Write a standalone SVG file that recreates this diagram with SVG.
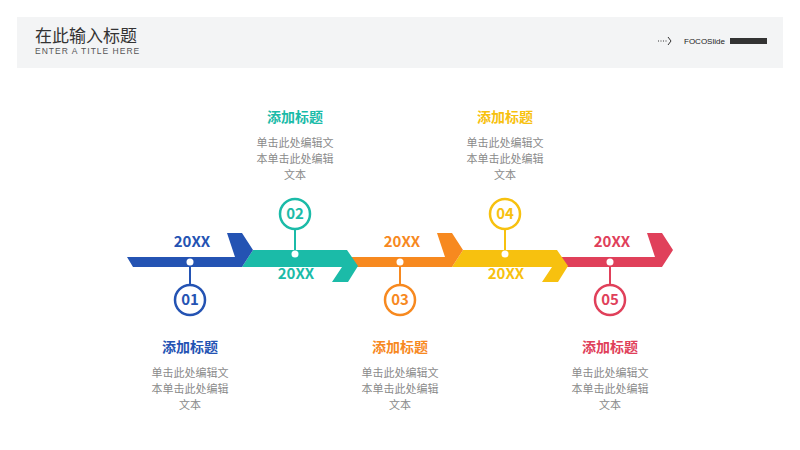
<svg xmlns="http://www.w3.org/2000/svg" width="800" height="450" viewBox="0 0 800 450">
<style>
text{font-family:"Noto Sans CJK SC","Liberation Sans",sans-serif}
.yr{font-size:15px;font-weight:bold;text-anchor:middle}
.tt{font-size:14px;font-weight:bold;text-anchor:middle}
.ds{font-size:11px;fill:#8a8a8a;text-anchor:middle}
.num{font-size:15px;font-weight:bold;text-anchor:middle}
.c{fill:#fff;stroke-width:2.5}
</style>
<rect width="800" height="450" fill="#fff"/>
<rect x="17" y="17" width="766" height="51" fill="#f3f4f5"/>
<text x="35" y="42" font-size="17" fill="#333">在此输入标题</text>
<text x="35" y="54" font-size="8.5" fill="#555" letter-spacing="1" style="font-family:'Liberation Sans',sans-serif">ENTER A TITLE HERE</text>
<line x1="658" y1="41" x2="667" y2="41" stroke="#333" stroke-width="1" stroke-dasharray="1,1.5"/>
<path d="M668 37 L671 41 L668 45" fill="none" stroke="#333"/>
<text x="684" y="44" font-size="8" fill="#222" style="font-family:'Liberation Sans',sans-serif">FOCOSlide</text>
<rect x="730" y="38" width="37" height="6" fill="#333"/>
<g id="connectors">
<polygon fill="#E0405A" points="547,257 655,257 647,233 662,233 673,250 662,267 553,267"/>
<polygon fill="#F7C10F" points="463,250 557,250 568,266 558,282 542,282 552,267 452,267"/>
<polygon fill="#F7891F" points="337,257 445,257 437,233 452,233 463,250 452,267 343,267"/>
<polygon fill="#1BBBA8" points="253,250 347,250 358,266 348,282 332,282 342,267 242,267"/>
<polygon fill="#2453B3" points="127,257 235,257 227,233 242,233 253,250 242,267 133,267"/>
<line x1="190" y1="262" x2="190" y2="285" stroke="#2453B3" stroke-width="2"/>
<line x1="295" y1="254" x2="295" y2="229" stroke="#1BBBA8" stroke-width="2"/>
<line x1="400" y1="262" x2="400" y2="285" stroke="#F7891F" stroke-width="2"/>
<line x1="505" y1="254" x2="505" y2="229" stroke="#F7C10F" stroke-width="2"/>
<line x1="610" y1="262" x2="610" y2="285" stroke="#E0405A" stroke-width="2"/>
<g fill="#fff"><circle cx="190" cy="262" r="3.5"/><circle cx="295" cy="254" r="3.5"/><circle cx="400" cy="262" r="3.5"/><circle cx="505" cy="254" r="3.5"/><circle cx="610" cy="262" r="3.5"/></g>
</g>
<g id="n1" fill="#2453B3"><text class="yr" x="192" y="247">20XX</text><circle class="c" stroke="#2453B3" cx="190" cy="300" r="15"/><text class="num" x="190" y="305">01</text><text class="tt" x="190" y="352">添加标题</text><text class="ds" x="190" y="377">单击此处编辑文</text><text class="ds" x="190" y="393">本单击此处编辑</text><text class="ds" x="190" y="409">文本</text></g>
<g id="n2" fill="#1BBBA8"><text class="yr" x="296" y="279">20XX</text><circle class="c" stroke="#1BBBA8" cx="295" cy="214" r="15"/><text class="num" x="295" y="219">02</text><text class="tt" x="295" y="122">添加标题</text><text class="ds" x="295" y="147">单击此处编辑文</text><text class="ds" x="295" y="163">本单击此处编辑</text><text class="ds" x="295" y="179">文本</text></g>
<g id="n3" fill="#F7891F"><text class="yr" x="402" y="247">20XX</text><circle class="c" stroke="#F7891F" cx="400" cy="300" r="15"/><text class="num" x="400" y="305">03</text><text class="tt" x="400" y="352">添加标题</text><text class="ds" x="400" y="377">单击此处编辑文</text><text class="ds" x="400" y="393">本单击此处编辑</text><text class="ds" x="400" y="409">文本</text></g>
<g id="n4" fill="#F7C10F"><text class="yr" x="506" y="279">20XX</text><circle class="c" stroke="#F7C10F" cx="505" cy="214" r="15"/><text class="num" x="505" y="219">04</text><text class="tt" x="505" y="122">添加标题</text><text class="ds" x="505" y="147">单击此处编辑文</text><text class="ds" x="505" y="163">本单击此处编辑</text><text class="ds" x="505" y="179">文本</text></g>
<g id="n5" fill="#E0405A"><text class="yr" x="612" y="247">20XX</text><circle class="c" stroke="#E0405A" cx="610" cy="300" r="15"/><text class="num" x="610" y="305">05</text><text class="tt" x="610" y="352">添加标题</text><text class="ds" x="610" y="377">单击此处编辑文</text><text class="ds" x="610" y="393">本单击此处编辑</text><text class="ds" x="610" y="409">文本</text></g>
</svg>
